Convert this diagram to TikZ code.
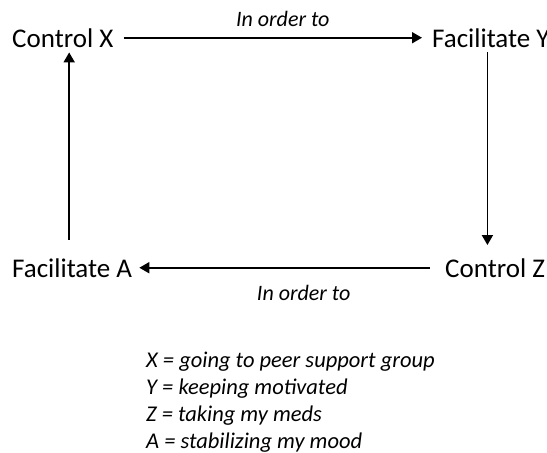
\documentclass[tikz,border=0pt]{standalone}
\usepackage{fontspec}
\setmainfont{Carlito}
\usepackage{tikz}
\usetikzlibrary{arrows.meta}

\begin{document}
\begin{tikzpicture}[x=1pt,y=-1pt,>={Triangle[length=10pt,width=11pt]},line cap=butt,
  term/.style={anchor=base west,inner sep=0pt,font=\fontsize{27}{32}\selectfont},
  flow/.style={->,line width=1.8pt},
  lbl/.style={inner sep=0pt,font=\fontsize{22}{26}\selectfont\itshape}]
\useasboundingbox (0,0) rectangle (547,453);
\node[term] (cx) at (12,47) {Control X};
\node[term] (fy) at (432,47) {Facilitate Y};
\node[term] (fa) at (12,277) {Facilitate A};
\node[term] (cz) at (445,277) {Control Z};
\draw[flow,shorten <=10pt,shorten >=10pt] (cx.east) -- (cx.east -| fy.west)
  node[lbl,midway,above=10pt,xshift=10pt] (t1) {In order to};
\draw[flow,shorten <=5pt,shorten >=13pt] ([xshift=-3.5pt]fy.south) -- ([xshift=-3.5pt]fy.south |- cz.north);
\draw[flow,shorten <=15pt,shorten >=7pt] (cz.west) -- (cz.west -| fa.east)
  node[lbl,midway,below=17pt,xshift=15pt] (t2) {In order to};
\draw[flow,shorten <=18pt,shorten >=5pt] ([xshift=-3pt]fa.north) -- ([xshift=-3pt]fa.north |- cx.south);
% legend
\node[lbl,anchor=north west,align=left,font=\fontsize{22.5}{27}\selectfont\itshape] (key) at (146,352)
  {X = going to peer support group\\Y = keeping motivated\\Z = taking my meds\\A = stabilizing my mood};
\end{tikzpicture}
\end{document}
